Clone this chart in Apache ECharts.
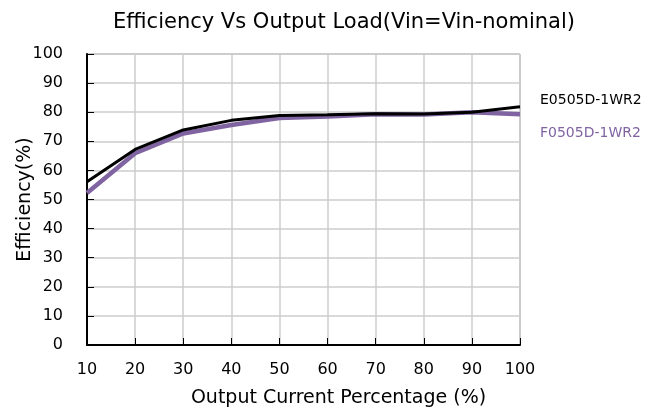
<!DOCTYPE html>
<html><head><meta charset="utf-8">
<script src="https://cdn.jsdelivr.net/npm/echarts@6/dist/echarts.min.js"></script>
<style>html,body{margin:0;padding:0;background:#fff}#c{width:658px;height:408px}</style>
</head><body><div id="c"></div>
<script>
const loads = [10, 20, 30, 40, 50, 60, 70, 80, 90, 100];
const seriesNames = ['E0505D-1WR2', 'F0505D-1WR2'];
const effE = [56.1, 67.2, 73.9, 77.2, 78.9, 79.1, 79.5, 79.4, 80.0, 81.9];
const effF = [52.2, 65.9, 72.7, 75.6, 78.0, 78.5, 79.3, 79.2, 80.0, 79.3];
const titleText = 'Efficiency Vs Output Load(Vin=Vin-nominal)';
const xName = 'Output Current Percentage (%)';
const yName = 'Efficiency(%)';

const font = '"DejaVu Sans", sans-serif';
const chart = echarts.init(document.getElementById('c'));
const pairs = a => loads.map((x, i) => [x, a[i]]);
chart.setOption({
  animation: false,
  title: { text: titleText, left: 339, top: 7, textAlign: 'center',
    textStyle: { fontFamily: font, fontSize: 21, fontWeight: 'normal', color: '#000' } },
  grid: { left: 87, right: 138, top: 54, bottom: 63, show: true, borderColor: '#999', borderWidth: 1,
    containLabel: false, outerBoundsMode: 'none' },
  xAxis: { type: 'value', min: 10, max: 100, interval: 10,
    name: xName, nameLocation: 'middle', nameGap: 44, nameMoveOverlap: false,
    nameTextStyle: { fontFamily: font, fontSize: 19, color: '#000', padding: [0, 0, 0, 70] },
    axisLine: { lineStyle: { color: '#000', width: 2 } },
    axisTick: { inside: true, length: 7, lineStyle: { color: '#000', width: 1 } },
    axisLabel: { fontFamily: font, fontSize: 16, color: '#000', margin: 17 },
    splitLine: { lineStyle: { color: '#ccc', width: 1.5 } } },
  yAxis: { type: 'value', min: 0, max: 100, interval: 10,
    name: yName, nameLocation: 'middle', nameGap: 52, nameMoveOverlap: false,
    nameTextStyle: { fontFamily: font, fontSize: 19, color: '#000' },
    axisLine: { show: true, lineStyle: { color: '#000', width: 2 } },
    axisTick: { show: true, inside: true, length: 7, lineStyle: { color: '#000', width: 1 } },
    axisLabel: { fontFamily: font, fontSize: 16, color: '#000', margin: 24 },
    splitLine: { lineStyle: { color: '#ccc', width: 1.5 } } },
  series: [
    { name: seriesNames[0], type: 'line', data: pairs(effE), showSymbol: false,
      lineStyle: { color: '#000', width: 3 }, z: 3 },
    { name: seriesNames[1], type: 'line', data: pairs(effF), showSymbol: false,
      lineStyle: { color: '#8064A2', width: 4.5 }, z: 2 }
  ],
  graphic: [
    { type: 'text', left: 540, top: 93, style: { text: seriesNames[0], fontFamily: font, fontSize: 14, fill: '#000' } },
    { type: 'text', left: 540, top: 126, style: { text: seriesNames[1], fontFamily: font, fontSize: 14, fill: '#8064A2' } }
  ]
});
</script></body></html>
